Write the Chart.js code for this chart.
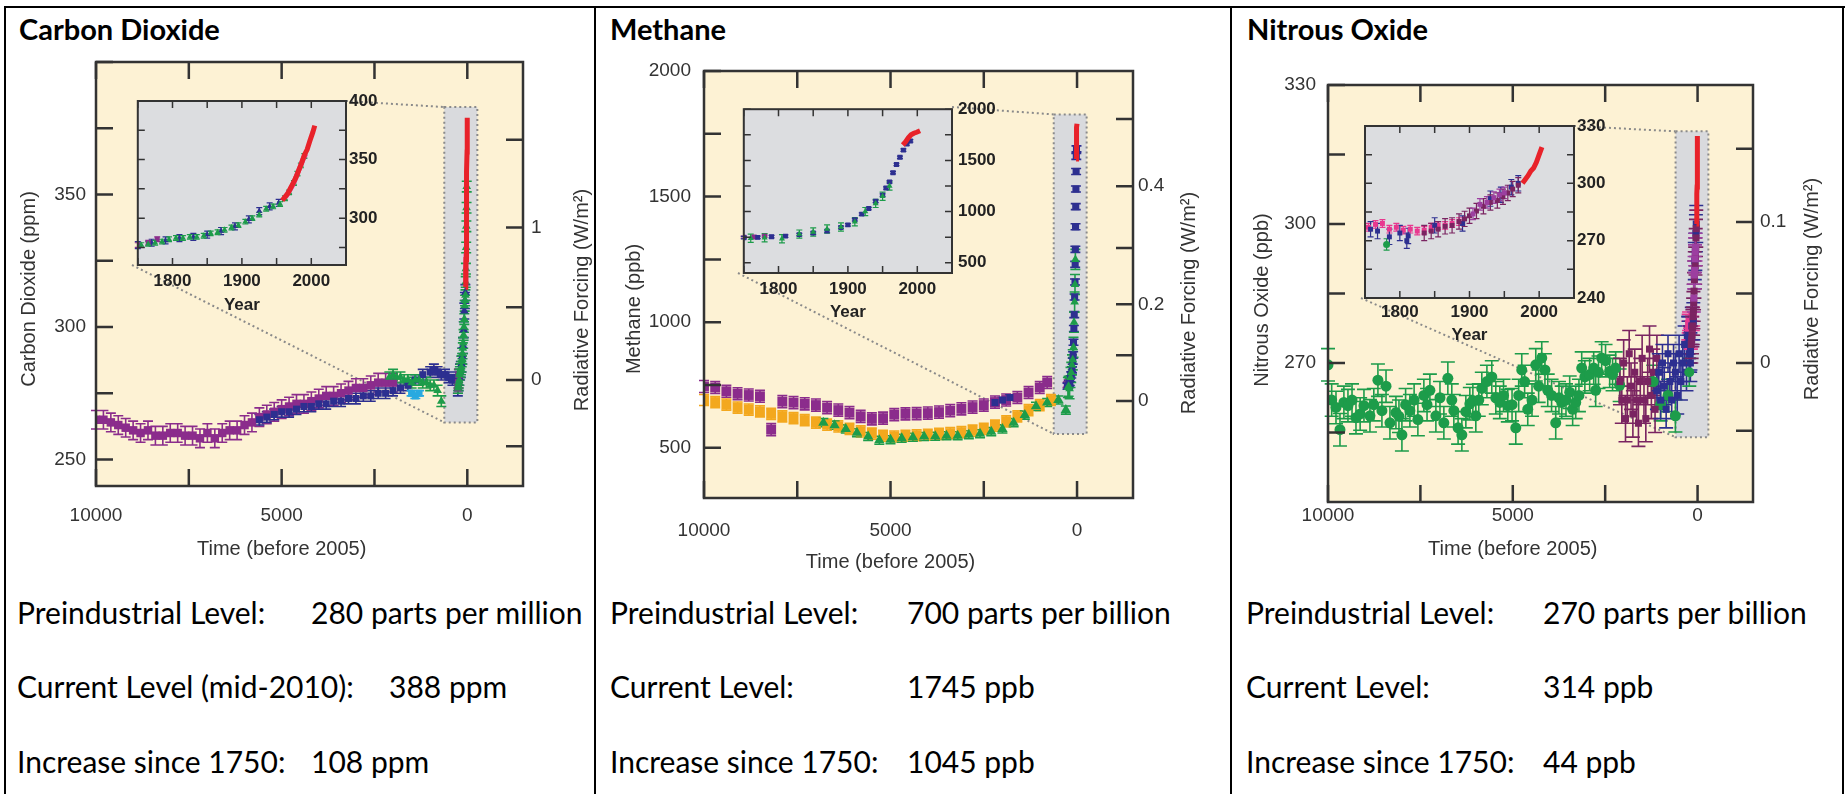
<!DOCTYPE html>
<html>
<head>
<meta charset="utf-8">
<script src="https://cdn.jsdelivr.net/npm/chart.js@4.4.1/dist/chart.umd.min.js"></script>
<style>
  body { margin: 0; background: #fff; width: 1847px; height: 794px; overflow: hidden; position: relative;
         font-family: Lato, Carlito, Calibri, sans-serif; }
  .rule { position: absolute; background: #000; }
  .ttl { position: absolute; font-weight: bold; font-size: 29px; line-height: 32px; white-space: nowrap; color: #000; }
  .txt { position: absolute; font-size: 30px; line-height: 32px; white-space: nowrap; color: #000; }
</style>
</head>
<body>
<script>
// ---------- axes shared by the three panels ----------
const timeTicks = [10000, 7500, 5000, 2500, 0];
const timeLabels = [10000, 5000, 0];
const yearTicks = [1750, 1800, 1850, 1900, 1950, 2000, 2050];
const yearLabels = [1800, 1900, 2000];

// ---------- Carbon dioxide (ppm) ----------
const co2Ticks = [250, 275, 300, 325, 350, 375, 400];
const co2Labels = [250, 300, 350];
const co2InsetTicks = [275, 300, 325, 350, 375, 400];
const co2InsetLabels = [300, 350, 400];
const co2RfTicks = [-0.5, 0, 0.5, 1, 1.5];
const co2RfLabels = [0, 1];

const co2PurpleBP = [10000, 9800, 9600, 9400, 9200, 9000, 8800, 8600, 8400, 8200, 8000, 7800, 7600, 7400, 7200, 7000, 6800, 6600, 6400, 6200, 6000, 5800, 5600, 5400, 5200, 5000, 4800, 4600, 4400, 4200, 4000, 3800, 3600, 3400, 3200, 3000, 2800, 2600, 2400, 2200, 2000];
const co2PurpleVal = [265, 265, 264, 263, 262, 261, 260, 261, 259, 259, 260, 260, 259, 259, 258, 260, 258, 260, 261, 261, 263, 264, 266, 267, 268, 269, 270, 271, 271, 272, 273, 274, 274, 275, 276, 277, 277, 278, 279, 279, 279];
const co2BlueBP = [5600, 5400, 5200, 5000, 4800, 4600, 4400, 4200, 4000, 3800, 3600, 3400, 3200, 3000, 2800, 2600, 2400, 2200, 2000, 1800, 1600, 1400, 1200, 1000, 900, 800, 700, 600, 500, 400, 300];
const co2BlueVal = [265, 266, 267, 268, 268, 269, 270, 270, 271, 271, 272, 272, 273, 273, 274, 274, 275, 275, 276, 277, 278, 280, 282, 283, 284, 283, 282, 282, 281, 280, 281];
const co2GreenBP = [2100, 2000, 1900, 1800, 1700, 1600, 1500, 1400, 1300, 1200, 1100, 1000, 900, 800, 700];
const co2GreenVal = [281, 282, 281, 281, 280, 280, 279, 280, 280, 279, 279, 278, 278, 276, 272];
const co2CyanBP = [1500, 1400, 1300];
const co2CyanVal = [275, 274, 275];

const co2LawYear = [1755, 1765, 1775, 1785, 1795, 1805, 1815, 1825, 1835, 1845, 1855, 1865, 1875, 1885, 1895, 1905, 1915, 1925, 1935, 1945, 1955, 1962, 1968, 1975, 1980, 1985, 1990];
const co2LawVal = [277, 278, 279, 280, 282, 283, 283, 284, 284, 285, 287, 288, 290, 292, 294, 297, 300, 303, 308, 310, 312, 317, 322, 330, 338, 345, 353];
const co2SipleYear = [1750, 1770, 1790, 1810, 1830, 1850, 1870, 1890, 1910, 1925, 1940, 1953];
const co2SipleVal = [277, 279, 281, 283, 284, 286, 289, 293, 299, 306, 310, 313];
const co2DomeYear = [1750, 1765, 1778];
const co2DomeVal = [277, 279, 282];
const co2FlaskYear = [1960, 1964, 1968, 1972, 1976, 1980, 1984, 1988, 1992];
const co2FlaskVal = [317, 319, 323, 327, 332, 338, 344, 350, 355];
const co2AirYear = [1958, 1962, 1966, 1970, 1974, 1978, 1982, 1986, 1990, 1994, 1998, 2002, 2005];
const co2AirVal = [315, 318, 321, 325.5, 330, 335, 341, 347, 354, 358.5, 366, 373, 379];

// ---------- Methane (ppb) ----------
const ch4Ticks = [500, 750, 1000, 1250, 1500, 1750, 2000];
const ch4Labels = [500, 1000, 1500, 2000];
const ch4InsetTicks = [500, 750, 1000, 1250, 1500, 1750, 2000];
const ch4InsetLabels = [500, 1000, 1500, 2000];
const ch4RfTicks = [0, 0.1, 0.2, 0.3, 0.4, 0.5];
const ch4RfLabels = [0, 0.2, 0.4];

const ch4PurpleBP = [10000, 9700, 9400, 9100, 8800, 8500, 8200, 7900, 7600, 7300, 7000, 6700, 6400, 6100, 5800, 5500, 5200, 4900, 4600, 4300, 4000, 3700, 3400, 3100, 2800, 2500, 2200, 1900, 1600, 1300, 1000, 800];
const ch4PurpleVal = [744, 740, 725, 715, 710, 705, 572, 684, 680, 675, 670, 660, 650, 640, 625, 615, 618, 632, 635, 636, 638, 642, 648, 655, 662, 670, 682, 690, 700, 720, 740, 760];
const ch4OrangeBP = [10000, 9700, 9400, 9100, 8800, 8500, 8200, 7900, 7600, 7300, 7000, 6700, 6400, 6100, 5800, 5500, 5200, 4900, 4600, 4300, 4000, 3700, 3400, 3100, 2800, 2500, 2200, 1900, 1600, 1300, 1000, 700];
const ch4OrangeVal = [690, 682, 672, 660, 652, 645, 635, 625, 618, 610, 600, 592, 585, 575, 565, 556, 548, 545, 548, 550, 552, 555, 558, 562, 568, 575, 588, 605, 625, 650, 670, 690];
const ch4GreenBP = [6800, 6500, 6200, 5900, 5600, 5300, 5000, 4700, 4400, 4100, 3800, 3500, 3200, 2900, 2600, 2300, 2000, 1700, 1400, 1100, 800, 500, 300];
const ch4GreenVal = [600, 590, 575, 560, 545, 530, 532, 538, 542, 545, 546, 548, 548, 552, 556, 564, 575, 600, 630, 665, 680, 690, 650];
const ch4BlueBP = [2200, 2000, 1800];
const ch4BlueVal = [680, 690, 700];

const ch4DomeYear = [1750, 1765, 1780];
const ch4DomeVal = [750, 752, 760];
const ch4LawYear = [1760, 1780, 1805, 1830, 1850, 1870, 1890, 1910, 1925, 1940, 1950, 1960];
const ch4LawVal = [740, 745, 735, 780, 800, 830, 850, 900, 1000, 1080, 1150, 1250];
const ch4FirnYear = [1750, 1770, 1790, 1810, 1830, 1850, 1870, 1890, 1900, 1910, 1920, 1930, 1940, 1950, 1955, 1960, 1965, 1970, 1975, 1980, 1985, 1990];
const ch4FirnVal = [745, 748, 755, 760, 775, 790, 810, 845, 870, 920, 975, 1030, 1100, 1160, 1230, 1290, 1380, 1460, 1530, 1600, 1660, 1690];
const ch4AirYear = [1979, 1983, 1987, 1991, 1995, 1999, 2004];
const ch4AirVal = [1650, 1680, 1720, 1750, 1765, 1775, 1790];

// ---------- Nitrous oxide (ppb) ----------
const n2oTicks = [255, 270, 285, 300, 315, 330];
const n2oLabels = [270, 300, 330];
const n2oInsetTicks = [240, 255, 270, 285, 300, 315, 330];
const n2oInsetLabels = [240, 270, 300, 330];
const n2oRfTicks = [-0.05, 0, 0.05, 0.1, 0.15];
const n2oRfLabels = [0, 0.1];

const n2oGreenBP = [10000, 9900, 9784, 9676, 9570, 9460, 9350, 9243, 9130, 9027, 8865, 8760, 8649, 8541, 8430, 8324, 8162, 8080, 8000, 7900, 7784, 7670, 7568, 7406, 7320, 7243, 7081, 6970, 6865, 6757, 6650, 6595, 6480, 6378, 6270, 6162, 6080, 6000, 5920, 5838, 5700, 5568, 5460, 5351, 5250, 5135, 5020, 4919, 4840, 4757, 4680, 4595, 4480, 4378, 4300, 4216, 4130, 4054, 3950, 3838, 3750, 3676, 3560, 3460, 3380, 3297, 3210, 3135, 3050, 2920, 2811, 2757, 2680, 2595, 2490, 2378, 2300, 2216, 2108, 1200, 1000, 800, 600];
const n2oGreenVal = [269.6, 262, 260.4, 255.6, 261.5, 260.8, 262, 258.2, 259, 260.8, 258.6, 261, 266.3, 259.7, 265, 257.1, 259.3, 258.5, 254.5, 261, 259.7, 262, 257.8, 263, 261, 264.1, 258.6, 262.5, 257.1, 266.7, 262, 259.7, 256, 254.5, 259.5, 261.2, 261.9, 258.6, 262, 264.5, 266, 267, 262.5, 261.5, 263, 260.8, 261, 256, 263, 268.5, 266, 260, 262, 269.6, 265, 271.1, 268.5, 264.1, 263, 257.1, 262.5, 261.5, 262, 263.7, 260, 261.5, 263, 268.9, 267, 267.5, 268.9, 264.1, 268, 271.1, 270.5, 268.2, 267.5, 268.9, 265.2, 266, 261, 263, 258.6];
const n2oMaroonBP = [2100, 2050, 2000, 1950, 1900, 1850, 1800, 1750, 1700, 1650, 1600, 1550, 1500, 1450, 1400, 1350, 1300, 1250, 1200, 1150, 1100];
const n2oMaroonVal = [266, 262, 270, 258, 262, 272, 265, 259, 268, 262, 257, 266, 271, 262, 258, 266, 273, 263, 268, 260, 271];
const n2oBlueBP = [1100, 1050, 1000, 950, 900, 850, 800, 750, 700, 650, 600, 550, 500, 450, 400, 350, 300, 250, 200];
const n2oBlueVal = [264, 268, 262, 270, 265, 260, 272, 266, 262, 270, 268, 263, 272, 266, 270, 274, 268, 276, 272];

const n2oPinkYear = [1755, 1765, 1775, 1785, 1795, 1805, 1815, 1825, 1835, 1845, 1855, 1865, 1875, 1885];
const n2oPinkVal = [277, 278.5, 279, 276, 277, 275.5, 276, 275, 275.5, 277, 278, 278, 279, 280];
const n2oGreenYear = [1781];
const n2oGreenRecent = [268];
const n2oBlueYear = [1758, 1768, 1785, 1800, 1810, 1812, 1850, 1890, 1930, 1945, 1960, 1970];
const n2oBlueRecent = [276, 275, 272, 274, 270, 272.5, 278, 279, 292, 294, 298, 300];
const n2oMaroonYear = [1835, 1845, 1855, 1865, 1875, 1885, 1893, 1900, 1910, 1920, 1930, 1940, 1948, 1955, 1962, 1970];
const n2oMaroonRecent = [274, 275, 276, 277.5, 278, 280, 281.4, 283, 285.5, 288, 290, 291, 293, 295, 297, 299];
const n2oPurpleYear = [1905, 1915, 1925, 1935, 1943, 1950];
const n2oPurpleRecent = [284, 289, 290, 292.5, 294, 295];
const n2oAirYear = [1976, 1980, 1984, 1988, 1992, 1996, 2000, 2004];
const n2oAirVal = [300, 302, 304, 306.5, 308, 311, 315, 319];

// radiative forcing -> concentration (for the right hand axes)
const co2Rf = rf => 280 * Math.exp(rf / 5.35);
const ch4Rf = rf => Math.pow(Math.sqrt(686) + rf / 0.0306, 2);
const n2oRf = rf => Math.pow(Math.sqrt(270) + rf / 0.111, 2);

// ---------- colours ----------
const PURPLE = '#8b2c8c', BLUE = '#2d2f90', GREEN = '#1d9c4a', CYAN = '#29a9e0', RED = '#e8222a',
      PINK = '#e8388f', ORANGE = '#f3a81e', MAROON = '#7a2461', VIOLET = '#9c3fa0';
const TXT = '#333';
const AXIS_FONT = "'Liberation Sans', Arial, sans-serif";

const pairs = (xs, ys) => xs.map((x, i) => ({ x: x, y: ys[i] }));
const toBP = years => years.map(y => 2005 - y);

function series(xs, ys, color, shape, err, size, line) {
  return { xs, ys, color, shape, err, size, line };
}

const co2Long = [
  series(co2PurpleBP, co2PurpleVal, PURPLE, 'rect', 3.5, 6),
  series(co2BlueBP, co2BlueVal, BLUE, 'rect', 2, 5),
  series(co2CyanBP, co2CyanVal, CYAN, 'rect', 1, 5),
  series(co2GreenBP, co2GreenVal, GREEN, 'triangle', 2, 5)
];
const co2Recent = [
  series(co2SipleYear, co2SipleVal, BLUE, 'triangle', 3, 5),
  series(co2DomeYear, co2DomeVal, PURPLE, 'rect', 2, 5),
  series(co2LawYear, co2LawVal, GREEN, 'triangle', 2, 5),
  series(co2FlaskYear, co2FlaskVal, PINK, 'circle', 0, 0, true),
  series(co2AirYear, co2AirVal, RED, 'circle', 0, 0, true)
];
const ch4Long = [
  series(ch4PurpleBP, ch4PurpleVal, PURPLE, 'rect', 24, 7),
  series(ch4OrangeBP, ch4OrangeVal, ORANGE, 'rect', 22, 7),
  series(ch4GreenBP, ch4GreenVal, GREEN, 'triangle', 16, 6),
  series(ch4BlueBP, ch4BlueVal, BLUE, 'rect', 10, 5)
];
const ch4Recent = [
  series(ch4DomeYear, ch4DomeVal, PURPLE, 'rect', 10, 5),
  series(ch4FirnYear, ch4FirnVal, BLUE, 'rect', 12, 5),
  series(ch4LawYear, ch4LawVal, GREEN, 'triangle', 40, 5),
  series(ch4AirYear, ch4AirVal, RED, 'circle', 0, 0, true)
];
const n2oLong = [
  series(n2oGreenBP, n2oGreenVal, GREEN, 'circle', 3.5, 5.5),
  series(n2oMaroonBP, n2oMaroonVal, MAROON, 'rect', 5, 5),
  series(n2oBlueBP, n2oBlueVal, BLUE, 'rect', 4, 5)
];
const n2oRecent = [
  series(n2oPinkYear, n2oPinkVal, PINK, 'rect', 2, 5),
  series(n2oGreenYear, n2oGreenRecent, GREEN, 'circle', 3, 5),
  series(n2oBlueYear, n2oBlueRecent, BLUE, 'rect', 4, 5),
  series(n2oMaroonYear, n2oMaroonRecent, MAROON, 'rect', 4, 5),
  series(n2oPurpleYear, n2oPurpleRecent, VIOLET, 'rect', 3, 5),
  series(n2oAirYear, n2oAirVal, RED, 'circle', 0, 0, true)
];

// ---------- page layout (page pixels) ----------
const panels = [
  { title: 'Carbon Dioxide', titleX: 19, yTitle: 'Carbon Dioxide (ppm)',
    yMin: 240, yMax: 400, ticks: co2Ticks, labels: co2Labels, rfTicks: co2RfTicks, rfLabels: co2RfLabels, rf: co2Rf,
    long: co2Long, recent: co2Recent, cap: 5,
    canvas: { l: 8, t: 40, r: 593, b: 575 }, area: { l: 96, t: 62, r: 523, b: 486 },
    yTitleX: 29, yTitleY: 289, yLabelGap: 10, xLabelY: 516, xTitleY: 549, rLabelGap: 8, rTitleX: 582, rTitleY: 300,
    zoom: { x0: 620, x1: -270, y0: 264, y1: 383 },
    inset: { l: 132, t: 101, r: 346, b: 265, yMin: 260, yMax: 400, ticks: co2InsetTicks, labels: co2InsetLabels,
             labelGap: 3, xLabelY: 281, xTitleY: 305 },
    rows: [['Preindustrial Level:', '280 parts per million', 311], ['Current Level (mid-2010):', '388 ppm', 389], ['Increase since 1750:', '108 ppm', 311]],
    textX: 17 },
  { title: 'Methane', titleX: 610, yTitle: 'Methane (ppb)',
    yMin: 300, yMax: 2000, ticks: ch4Ticks, labels: ch4Labels, rfTicks: ch4RfTicks, rfLabels: ch4RfLabels, rf: ch4Rf,
    long: ch4Long, recent: ch4Recent, cap: 5,
    canvas: { l: 598, t: 40, r: 1229, b: 585 }, area: { l: 704, t: 71, r: 1133, b: 498 },
    yTitleX: 634, yTitleY: 309, yLabelGap: 13, xLabelY: 531, xTitleY: 562, rLabelGap: 5, rTitleX: 1189, rTitleY: 303,
    zoom: { x0: 625, x1: -257, y0: 555, y1: 1827 },
    inset: { l: 738, t: 107, r: 952, b: 273, yMin: 400, yMax: 2000, ticks: ch4InsetTicks, labels: ch4InsetLabels,
             labelGap: 6, xLabelY: 289, xTitleY: 312 },
    rows: [['Preindustrial Level:', '700 parts per billion', 907], ['Current Level:', '1745 ppb', 907], ['Increase since 1750:', '1045 ppb', 907]],
    textX: 610 },
  { title: 'Nitrous Oxide', titleX: 1247, yTitle: 'Nitrous Oxide (ppb)',
    yMin: 240, yMax: 330, ticks: n2oTicks, labels: n2oLabels, rfTicks: n2oRfTicks, rfLabels: n2oRfLabels, rf: n2oRf,
    long: n2oLong, recent: n2oRecent, cap: 7,
    canvas: { l: 1234, t: 40, r: 1841, b: 575 }, area: { l: 1328, t: 85, r: 1753, b: 502 },
    yTitleX: 1262, yTitleY: 300, yLabelGap: 12, xLabelY: 516, xTitleY: 549, rLabelGap: 7, rTitleX: 1812, rTitleY: 289,
    zoom: { x0: 595, x1: -292, y0: 254, y1: 320 },
    inset: { l: 1361, t: 126, r: 1574, b: 298, yMin: 240, yMax: 330, ticks: n2oInsetTicks, labels: n2oInsetLabels,
             labelGap: 3, xLabelY: 312, xTitleY: 335 },
    rows: [['Preindustrial Level:', '270 parts per billion', 1543], ['Current Level:', '314 ppb', 1543], ['Increase since 1750:', '44 ppb', 1543]],
    textX: 1246 }
];
const rowCenters = [613, 687, 762];
const titleCenter = 30;

// ---------- table rules and texts ----------
function rule(l, t, w, h) {
  const d = document.createElement('div');
  d.className = 'rule';
  d.style.cssText = `left:${l}px;top:${t}px;width:${w}px;height:${h}px`;
  document.body.appendChild(d);
}
rule(4, 6, 1841, 2);
[4, 594, 1230, 1842].forEach(x => rule(x, 6, 2, 800));

function text(cls, str, l, center) {
  const d = document.createElement('div');
  d.className = cls;
  d.textContent = str;
  d.style.left = l + 'px';
  d.style.top = (center - 17) + 'px';
  document.body.appendChild(d);
}

// ---------- plot decorations: background, zoom box, error bars, frame, inside ticks, titles ----------
function framePlugin(cfg) {
  return {
    id: 'frame',
    beforeDraw(chart) {
      const a = chart.chartArea, ctx = chart.ctx;
      ctx.save();
      ctx.fillStyle = cfg.bg;
      ctx.fillRect(a.left, a.top, a.right - a.left, a.bottom - a.top);
      ctx.restore();
    },
    beforeDatasetsDraw(chart) {
      const ctx = chart.ctx, xs = chart.scales.x, ys = chart.scales.y;
      if (cfg.zoom) {
        const z = cfg.zoom, o = cfg.origin, ins = cfg.insetRect;
        const x0 = xs.getPixelForValue(z.x0), x1 = xs.getPixelForValue(z.x1);
        const y0 = ys.getPixelForValue(z.y1), y1 = ys.getPixelForValue(z.y0);
        ctx.save();
        ctx.fillStyle = '#d9dadd';
        ctx.fillRect(x0, y0, x1 - x0, y1 - y0);
        ctx.strokeStyle = '#8a8a8a';
        ctx.lineWidth = 2;
        ctx.setLineDash([2, 3]);
        ctx.strokeRect(x0, y0, x1 - x0, y1 - y0);
        ctx.beginPath();
        ctx.moveTo(ins.r - o.l, ins.t - o.t); ctx.lineTo(x0, y0);
        ctx.moveTo(ins.l - o.l, ins.b - o.t); ctx.lineTo(x0, y1);
        ctx.stroke();
        ctx.restore();
      }
      chart.data.datasets.forEach((ds, i) => {
        if (!ds.errorBar) return;
        const meta = chart.getDatasetMeta(i);
        ctx.save();
        ctx.strokeStyle = ds.borderColor;
        ctx.lineWidth = cfg.errWidth;
        ctx.beginPath();
        meta.data.forEach((pt, j) => {
          const v = ds.data[j].y;
          const yt = ys.getPixelForValue(v + ds.errorBar), yb = ys.getPixelForValue(v - ds.errorBar);
          ctx.moveTo(pt.x, yt); ctx.lineTo(pt.x, yb);
          ctx.moveTo(pt.x - cfg.cap, yt); ctx.lineTo(pt.x + cfg.cap, yt);
          ctx.moveTo(pt.x - cfg.cap, yb); ctx.lineTo(pt.x + cfg.cap, yb);
        });
        ctx.stroke();
        ctx.restore();
      });
    },
    afterDraw(chart) {
      const ctx = chart.ctx, a = chart.chartArea, xs = chart.scales.x, ys = chart.scales.y;
      const tl = cfg.tickLen;
      ctx.save();
      ctx.strokeStyle = cfg.frameColor;
      ctx.lineWidth = cfg.tickWidth;
      ctx.beginPath();
      xs.ticks.forEach(t => {
        const px = xs.getPixelForValue(t.value);
        ctx.moveTo(px, a.top); ctx.lineTo(px, a.top + tl);
        ctx.moveTo(px, a.bottom); ctx.lineTo(px, a.bottom - tl);
      });
      ys.ticks.forEach(t => {
        const py = ys.getPixelForValue(t.value);
        ctx.moveTo(a.left, py); ctx.lineTo(a.left + tl, py);
        if (cfg.mirrorY) { ctx.moveTo(a.right, py); ctx.lineTo(a.right - tl, py); }
      });
      if (chart.scales.y2) {
        const y2 = chart.scales.y2;
        y2.ticks.forEach(t => {
          const py = y2.getPixelForValue(t.value);
          ctx.moveTo(a.right, py); ctx.lineTo(a.right - tl, py);
        });
      }
      ctx.stroke();
      ctx.lineWidth = cfg.frameWidth;
      ctx.strokeRect(a.left, a.top, a.right - a.left, a.bottom - a.top);
      (cfg.titles || []).forEach(t => {
        const x = t.atTime !== undefined ? xs.getPixelForValue(t.atTime) : t.x;
        ctx.save();
        ctx.translate(x, t.y);
        if (t.rot) ctx.rotate(-Math.PI / 2);
        ctx.fillStyle = TXT;
        ctx.font = '20px ' + AXIS_FONT;
        ctx.textAlign = 'center';
        ctx.textBaseline = 'middle';
        ctx.fillText(t.text, 0, 0);
        ctx.restore();
      });
      ctx.restore();
    }
  };
}

function makeDatasets(list, asBP, scale) {
  return list.map(s => ({
    data: pairs(asBP ? toBP(s.xs) : s.xs, s.ys),
    borderColor: s.color,
    backgroundColor: s.color,
    pointStyle: s.shape,
    pointRadius: s.line ? 0 : s.size * scale,
    pointBorderWidth: 0,
    showLine: !!s.line,
    borderWidth: s.line ? 5 : 0,
    errorBar: s.err
  }));
}

function place(rect) {
  const wrap = document.createElement('div');
  wrap.style.cssText = `position:absolute;left:${rect.l}px;top:${rect.t}px;width:${rect.r - rect.l}px;height:${rect.b - rect.t}px`;
  const cv = document.createElement('canvas');
  wrap.appendChild(cv);
  document.body.appendChild(wrap);
  return cv;
}

const setTicks = values => scale => { scale.ticks = values.map(v => ({ value: v })); };
const showOnly = labels => v => (labels.includes(v) ? String(v) : '');

function makeMain(p) {
  const c = p.canvas, a = p.area;
  const tickFont = { family: AXIS_FONT, size: 19 };
  // later series are drawn on top
  const datasets = makeDatasets(p.long, false, 1)
    .concat(makeDatasets(p.recent, true, 1))
    .map((d, i) => Object.assign(d, { order: -i }));
  new Chart(place(c), {
    type: 'scatter',
    data: { datasets },
    options: {
      responsive: true, maintainAspectRatio: false, animation: false, events: [],
      layout: { padding: { top: a.t - c.t, left: 0, right: 0, bottom: 0 } },
      plugins: { legend: { display: false }, tooltip: { enabled: false } },
      scales: {
        x: {
          type: 'linear', position: 'bottom', reverse: true, min: -1500, max: 10000,
          grid: { display: false, drawTicks: false }, border: { display: false },
          afterBuildTicks: setTicks(timeTicks),
          afterFit: s => { s.height = c.b - a.b; },
          ticks: { autoSkip: false, maxRotation: 0, padding: p.xLabelY - a.b - 11.4, font: tickFont, color: TXT, callback: showOnly(timeLabels) }
        },
        y: {
          type: 'linear', position: 'left', min: p.yMin, max: p.yMax,
          grid: { display: false, drawTicks: false }, border: { display: false },
          afterBuildTicks: setTicks(p.ticks),
          afterFit: s => { s.width = a.l - c.l; },
          ticks: { autoSkip: false, padding: p.yLabelGap, font: tickFont, color: TXT, callback: showOnly(p.labels) }
        },
        y2: {
          type: 'linear', position: 'right', min: p.yMin, max: p.yMax,
          grid: { display: false, drawTicks: false }, border: { display: false },
          afterBuildTicks: s => { s.ticks = p.rfTicks.map(rf => ({ value: p.rf(rf) })); },
          afterFit: s => { s.width = c.r - a.r; },
          ticks: { autoSkip: false, padding: p.rLabelGap, font: tickFont, color: TXT,
                   callback: (v, i) => (p.rfLabels.includes(p.rfTicks[i]) ? String(p.rfTicks[i]) : '') }
        }
      }
    },
    plugins: [framePlugin({
      bg: '#fdf2d4', frameColor: '#333', frameWidth: 2.5, tickLen: 17, tickWidth: 2.5, errWidth: 1.6, cap: p.cap,
      zoom: p.zoom, origin: c, insetRect: p.inset,
      titles: [
        { text: p.yTitle, x: p.yTitleX - c.l, y: p.yTitleY - c.t, rot: true },
        { text: 'Radiative Forcing (W/m²)', x: p.rTitleX - c.l, y: p.rTitleY - c.t, rot: true },
        { text: 'Time (before 2005)', atTime: 5000, y: p.xTitleY - c.t }
      ]
    })]
  });
}

function makeInset(p) {
  const r = p.inset;
  const padTop = 14, rightW = 48, bottomH = 55;
  const c = { l: r.l, t: r.t - padTop, r: r.r + rightW, b: r.b + bottomH };
  const font = { family: AXIS_FONT, size: 17, weight: 'bold' };
  const datasets = makeDatasets(p.recent, false, 0.7).map((d, i) => Object.assign(d, { order: -i }));
  new Chart(place(c), {
    type: 'scatter',
    data: { datasets },
    options: {
      responsive: true, maintainAspectRatio: false, animation: false, events: [],
      layout: { padding: { top: padTop, left: 0, right: 0, bottom: 0 } },
      plugins: { legend: { display: false }, tooltip: { enabled: false } },
      scales: {
        x: {
          type: 'linear', position: 'bottom', min: 1750, max: 2050,
          grid: { display: false, drawTicks: false }, border: { display: false },
          afterBuildTicks: setTicks(yearTicks),
          afterFit: s => { s.height = bottomH; },
          ticks: { autoSkip: false, maxRotation: 0, padding: r.xLabelY - r.b - 10.2, font, color: '#222', callback: showOnly(yearLabels) },
          title: { display: true, text: 'Year', font, color: '#222', padding: { top: 0, bottom: c.b - r.xTitleY - 10.2 } }
        },
        y: {
          type: 'linear', position: 'right', min: r.yMin, max: r.yMax,
          grid: { display: false, drawTicks: false }, border: { display: false },
          afterBuildTicks: setTicks(r.ticks),
          afterFit: s => { s.width = rightW; },
          ticks: { autoSkip: false, padding: r.labelGap, font, color: '#222', callback: showOnly(r.labels) }
        }
      }
    },
    plugins: [framePlugin({ bg: '#dcdde0', frameColor: '#333', frameWidth: 2, tickLen: 7, tickWidth: 1.5, errWidth: 1.2, cap: 3, mirrorY: true })]
  });
}

panels.forEach(p => {
  text('ttl', p.title, p.titleX, titleCenter);
  p.rows.forEach((row, i) => {
    text('txt', row[0], p.textX, rowCenters[i]);
    text('txt', row[1], row[2], rowCenters[i]);
  });
  makeMain(p);
  makeInset(p);
});
</script>
</body>
</html>
